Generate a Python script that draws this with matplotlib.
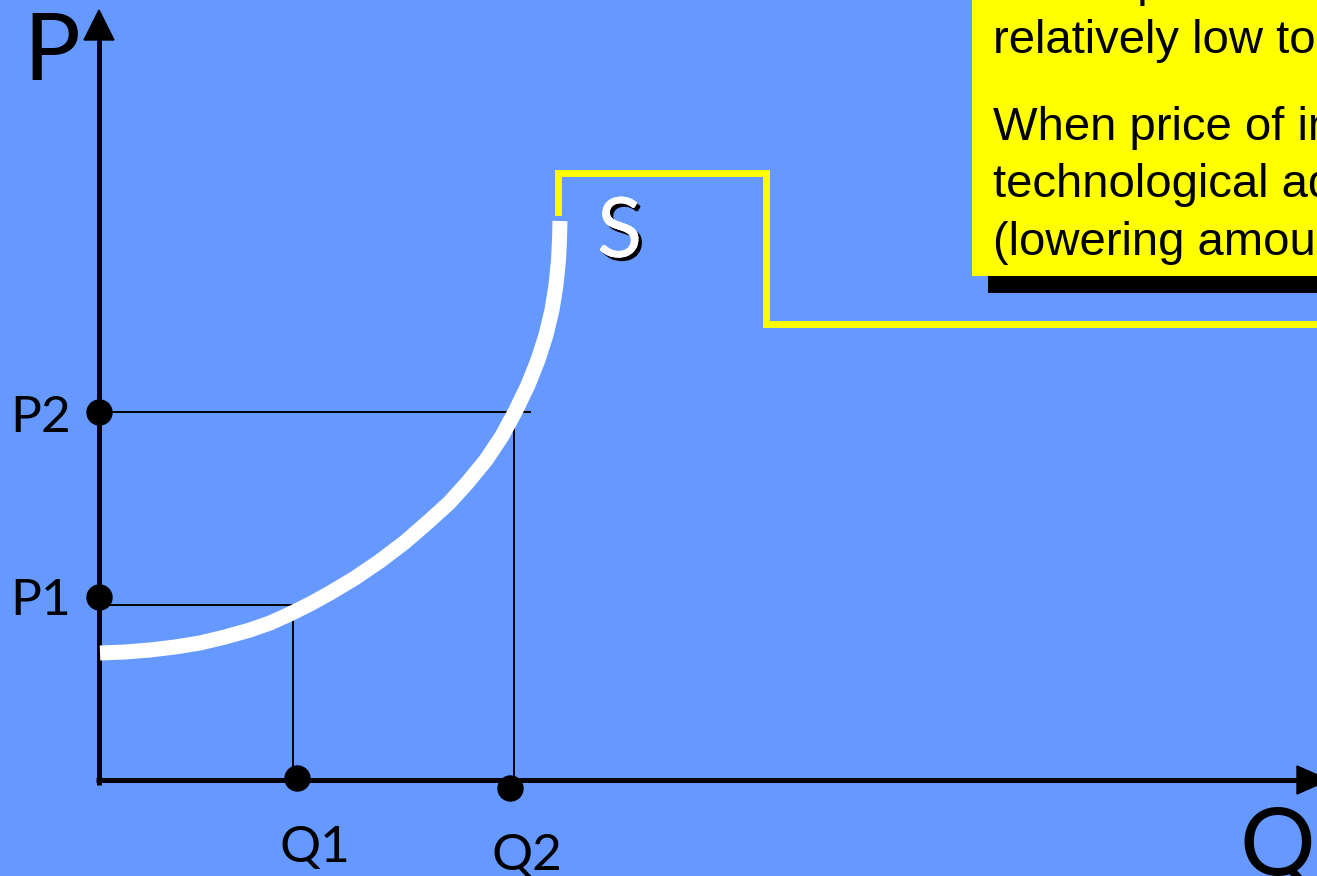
import matplotlib
matplotlib.use("Agg")
import matplotlib.pyplot as plt
from matplotlib.patches import Rectangle, Polygon
import matplotlib.patheffects as pe

# ---- data (diagram units) ----
supply_q = [0.01, 0.26, 0.51, 0.76, 1.01, 1.26, 1.51, 1.71, 1.91, 2.11, 2.31, 2.56, 2.81, 3.06,
            3.29, 3.50, 3.69, 3.87, 4.03, 4.17, 4.29, 4.39, 4.47, 4.53, 4.57, 4.595, 4.605, 4.61]
supply_p = [1.27, 1.28, 1.30, 1.33, 1.37, 1.43, 1.50, 1.57, 1.66, 1.76, 1.87, 2.02, 2.19, 2.38,
            2.58, 2.77, 2.98, 3.20, 3.44, 3.70, 3.95, 4.20, 4.45, 4.70, 4.95, 5.20, 5.40, 5.59]
price_levels = [1.83, 3.68]          # P1, P2 dots on the P axis
price_labels = ["P1", "P2"]
quantity_levels = [1.98, 4.11]       # Q1, Q2 dots
quantity_dot_p = [0.02, -0.08]
quantity_labels = ["Q1", "Q2"]
guide_h_y = [1.75, 3.68]
guide_h_xend = [1.94, 4.31]
guide_v_x = [1.94, 4.15]
guide_v_yend = [1.62, 3.60]
callout_q = [4.59, 4.59, 6.67, 6.67, 12.6]
callout_p = [5.68, 6.07, 6.07, 4.56, 4.56]
box_lines = ["The import share is",
             "relatively low to",
             "When price of inputs",
             "technological advance",
             "(lowering amount of"]

BG = "#6699FF"
fig = plt.figure(figsize=(13.17, 8.76), dpi=100, facecolor=BG)
ax = fig.add_axes([0, 0, 1, 1])
ax.set_facecolor(BG)
ax.set_xlim(-0.99, 12.18)
ax.set_ylim(-0.96, 7.80)
ax.axis("off")

geo = ["Lato", "DejaVu Sans"]

# axes
ax.plot([0, 0], [-0.05, 7.45], color="black", lw=3.6, solid_capstyle="butt", zorder=3)
ax.add_patch(Polygon([[-0.15, 7.40], [0.15, 7.40], [0.0, 7.70]], closed=True, color="black", zorder=3))
ax.plot([-0.03, 12.0], [0.0, 0.0], color="black", lw=3.6, solid_capstyle="butt", zorder=3)
ax.add_patch(Polygon([[11.98, 0.14], [11.98, -0.14], [12.30, 0.0]], closed=True, color="black", zorder=3))

# guide lines
for y, xe in zip(guide_h_y, guide_h_xend):
    ax.plot([0, xe], [y, y], color="black", lw=1.4, zorder=2)
for x, ye in zip(guide_v_x, guide_v_yend):
    ax.plot([x, x], [0, ye], color="black", lw=1.4, zorder=2)

# supply curve
ax.plot(supply_q, supply_p, color="white", lw=10.8, solid_capstyle="butt",
        solid_joinstyle="round", zorder=4)

# dots
ax.plot([0] * len(price_levels), price_levels, "o", color="black", ms=18, zorder=5)
ax.plot(quantity_levels, quantity_dot_p, "o", color="black", ms=18, zorder=5)

# axis labels
ax.text(-0.76, 7.00, "P", fontsize=68, family=geo, va="baseline", ha="left")
ax.text(11.41, -0.95, "Q", fontsize=68, family=geo, va="baseline", ha="left")
for lab, yb in zip(price_labels, [1.65, 3.48]):
    ax.text(-0.89, yb, lab, fontsize=37, family=geo, va="baseline", ha="left")
for lab, x, yb in zip(quantity_labels, [1.81, 3.93], [-0.82, -0.90]):
    ax.text(x, yb, lab, fontsize=37, family=geo, va="baseline", ha="left")

# S label with shadow
ax.text(4.98, 5.23, "S", fontsize=60, family=geo, color="white", va="baseline", ha="left",
        path_effects=[pe.withSimplePatchShadow(offset=(2.5, -2.5), shadow_rgbFace="black", alpha=1.0),
                      pe.Normal()], zorder=6)

# yellow callout line
ax.plot(callout_q, callout_p, color="#FFFF00", lw=5, solid_joinstyle="miter", zorder=3, clip_on=False)

# yellow text box with shadow
ax.add_patch(Rectangle((8.89, 4.87), 4.0, 3.5, facecolor="black", edgecolor="none", zorder=6))
ax.add_patch(Rectangle((8.73, 5.04), 4.0, 3.5, facecolor="#FFFF00", edgecolor="none", zorder=7))
for line, yb in zip(box_lines, [7.84, 7.27, 6.40, 5.83, 5.25]):
    ax.text(8.94, yb, line, fontsize=34, family=["Liberation Sans", "DejaVu Sans"],
            color="black", va="baseline", ha="left", zorder=8)

fig.savefig("out.png", dpi=100, facecolor=BG)
